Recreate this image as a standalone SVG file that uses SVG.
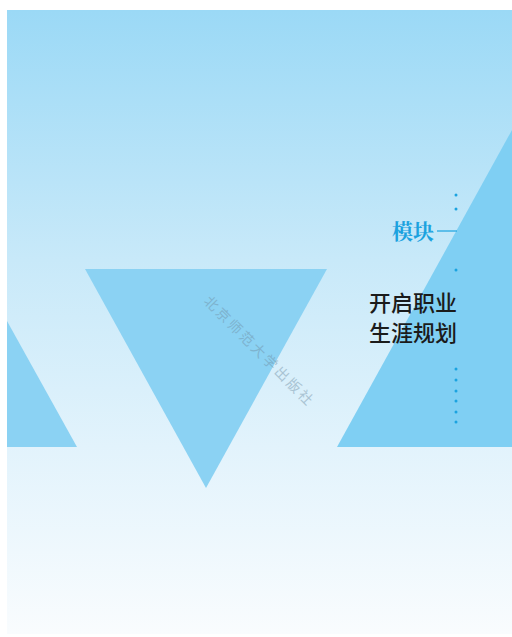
<svg xmlns="http://www.w3.org/2000/svg" width="512" height="637" viewBox="0 0 512 637">
<defs>
<linearGradient id="bg" x1="0" y1="10" x2="0" y2="634" gradientUnits="userSpaceOnUse">
<stop offset="0" stop-color="#9bd9f6"/>
<stop offset="0.4" stop-color="#c8e9f9"/>
<stop offset="0.7" stop-color="#e2f3fc"/>
<stop offset="1" stop-color="#f9fcfe"/>
</linearGradient>
<style>
.tri{fill:#8bd2f3}
.tri2{fill:#7fcff3}
.dot{fill:#1aa3e0}
.cn{font-family:"Noto Sans CJK SC",sans-serif;fill:#1b1b1b;font-size:22px;font-weight:500}
.mod{font-family:"Noto Serif CJK SC","Noto Sans CJK SC",serif;fill:#1ba2df;font-size:21px;font-weight:bold}
.wm{font-family:"Noto Sans CJK SC",sans-serif;fill:#6f8ea3;font-size:14px;opacity:0.45}
</style>
</defs>
<rect x="0" y="0" width="512" height="637" fill="#ffffff"/>
<rect x="7" y="10" width="505" height="624" fill="url(#bg)"/>
<g id="tri-left"><polygon class="tri" points="7,321 77,447 7,447"/></g>
<g id="tri-center"><polygon class="tri" points="85,269 327,269 206,488"/></g>
<g id="tri-right"><polygon class="tri2" points="337,447 512,130 512,447"/></g>
<g id="watermark"><text class="wm" transform="translate(203,302) rotate(45)" letter-spacing="2.6">北京师范大学出版社</text></g>
<g id="module">
<text class="mod" x="392" y="239">模块</text>
<line x1="437" y1="231" x2="457" y2="231" stroke="#1aa3e0" stroke-width="1.2"/>
</g>
<g id="title">
<text class="cn" x="369" y="311">开启职业</text>
<text class="cn" x="369" y="341">生涯规划</text>
</g>
<g id="dots">
<circle class="dot" cx="456" cy="195" r="1.5"/>
<circle class="dot" cx="456" cy="209" r="1.5"/>
<circle class="dot" cx="456" cy="270" r="1.5"/>
<circle class="dot" cx="456" cy="369" r="1.5"/>
<circle class="dot" cx="456" cy="380" r="1.5"/>
<circle class="dot" cx="456" cy="391" r="1.5"/>
<circle class="dot" cx="456" cy="401" r="1.5"/>
<circle class="dot" cx="456" cy="412" r="1.5"/>
<circle class="dot" cx="456" cy="422" r="1.5"/>
</g>
</svg>
